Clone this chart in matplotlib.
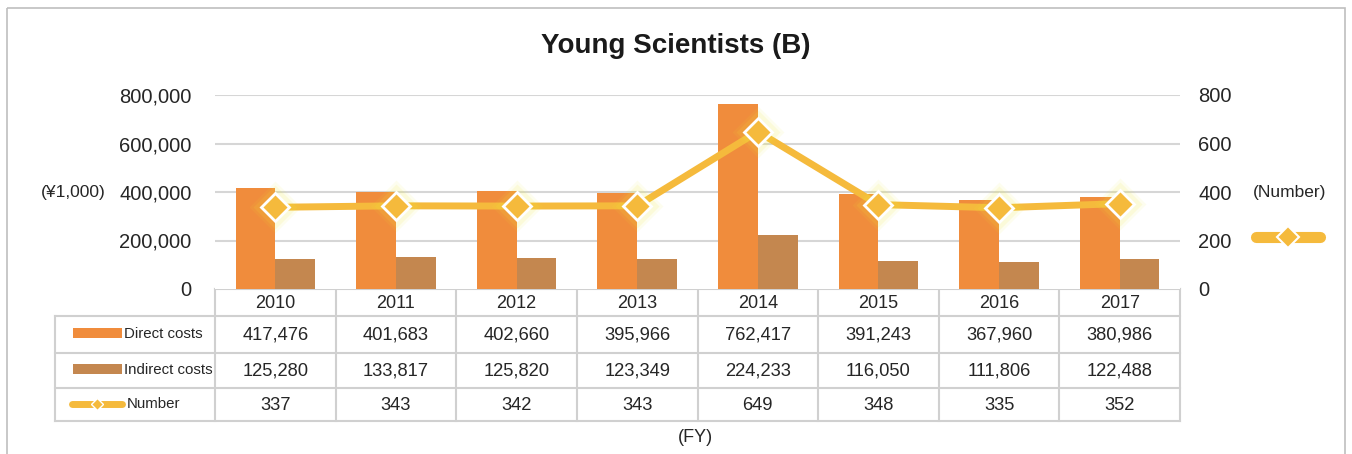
import matplotlib
matplotlib.use("Agg")
import matplotlib.pyplot as plt
from matplotlib.patches import Rectangle
from matplotlib.lines import Line2D
import numpy as np

plt.rcParams['font.family'] = ['Liberation Sans', 'DejaVu Sans']

years = ["2010", "2011", "2012", "2013", "2014", "2015", "2016", "2017"]
direct_costs = [417476, 401683, 402660, 395966, 762417, 391243, 367960, 380986]
indirect_costs = [125280, 133817, 125820, 123349, 224233, 116050, 111806, 122488]
numbers = [337, 343, 342, 343, 649, 348, 335, 352]
row_labels = ["Direct costs", "Indirect costs", "Number"]
left_ticks = [0, 200000, 400000, 600000, 800000]
right_ticks = [0, 200, 400, 600, 800]

C_DIRECT = "#F08C3C"
C_INDIRECT = "#C4874F"
C_LINE = "#F5BA3C"
C_GRID = "#D6D6D6"
C_TXT = "#262626"

W, H = 1352, 454
fig = plt.figure(figsize=(W / 100, H / 100), dpi=100)

# frame
bg = fig.add_axes([0, 0, 1, 1])
bg.set_xlim(0, W)
bg.set_ylim(H, 0)
bg.axis("off")
bg.add_patch(Rectangle((7, 8), 1338, 460, fill=False, edgecolor="#BFBFBF", lw=1.2))

# plot area in pixels
px_l, px_r, px_t, px_b = 215, 1180, 95, 289
ax = fig.add_axes([px_l / W, (H - px_b) / H, (px_r - px_l) / W, (px_b - px_t) / H])
n = len(years)
x = np.arange(n)
bw = 0.33
ax.bar(x - bw / 2, direct_costs, bw, color=C_DIRECT, zorder=2)
ax.bar(x + bw / 2, indirect_costs, bw, color=C_INDIRECT, zorder=2)
ax.set_xlim(-0.5, n - 0.5)
ax.set_ylim(0, 800000)
ax.set_yticks(left_ticks)
ax.set_yticklabels([f"{v:,}" for v in left_ticks], fontsize=14.5, color=C_TXT)
ax.tick_params(axis="y", length=0, pad=17)
ax.set_xticks([])
for s in ax.spines.values():
    s.set_visible(False)
for v in left_ticks[1:]:
    ax.axhline(v, color=C_GRID, lw=1.5, zorder=0)

ax2 = ax.twinx()
ax2.set_ylim(0, 800)
ax2.set_yticks(right_ticks)
ax2.set_yticklabels([str(v) for v in right_ticks], fontsize=14.5, color=C_TXT)
ax2.tick_params(axis="y", length=0, pad=13)
for s in ax2.spines.values():
    s.set_visible(False)
ax2.plot(x, numbers, color=C_LINE, lw=5, zorder=3, solid_capstyle="round")
for a, s in [(0.08, 26), (0.12, 22)]:
    ax2.plot(x, numbers, ls="none", marker="D", ms=s, color="#EFEA3A", alpha=a, mec="none", zorder=3)
ax2.plot(x, numbers, ls="none", marker="D", ms=14, mfc=C_LINE, mec="white", mew=2, zorder=4)

fig.text(676 / W, (H - 46) / H, "Young Scientists (B)", ha="center", va="center",
         fontsize=20, fontweight="bold", color="#1a1a1a")
fig.text(73 / W, (H - 192) / H, "(¥1,000)", ha="center", va="center", fontsize=12.5, color=C_TXT)
fig.text(1290 / W, (H - 192) / H, "(Number)", ha="center", va="center", fontsize=12.5, color=C_TXT)
# right legend sample
bg.add_line(Line2D([1256, 1320], [237, 237], color=C_LINE, lw=8, solid_capstyle="round"))
bg.plot([1288], [237], marker="D", ms=11, mfc=C_LINE, mec="white", mew=1.5)

# table
colw = (px_r - px_l) / n
rows_y = [289, 316, 353, 388, 421]
leg_l = 55
lc = "#D0D0D0"
bg.add_line(Line2D([px_l, px_r], [rows_y[0], rows_y[0]], color=lc, lw=1.5))
for yy in rows_y[1:]:
    bg.add_line(Line2D([leg_l, px_r], [yy, yy], color=lc, lw=1.5))
for i in range(n + 1):
    xx = px_l + i * colw
    bg.add_line(Line2D([xx, xx], [rows_y[0], rows_y[-1]], color=lc, lw=1.5))
bg.add_line(Line2D([leg_l, leg_l], [rows_y[1], rows_y[-1]], color=lc, lw=1.5))

series = [direct_costs, indirect_costs, numbers]
for i, yr in enumerate(years):
    cx = px_l + (i + 0.5) * colw
    bg.text(cx, (rows_y[0] + rows_y[1]) / 2 + 1, yr, ha="center", va="center", fontsize=13, color=C_TXT)
    for r, ser in enumerate(series):
        cy = (rows_y[r + 1] + rows_y[r + 2]) / 2 + 1
        bg.text(cx, cy, f"{ser[i]:,}", ha="center", va="center", fontsize=13.2, color=C_TXT)

# legend column
for r, lab in enumerate(row_labels):
    cy = (rows_y[r + 1] + rows_y[r + 2]) / 2
    if r < 2:
        bg.add_patch(Rectangle((73, cy - 7), 49, 10, color=[C_DIRECT, C_INDIRECT][r], lw=0))
        bg.text(124, cy, lab, ha="left", va="center", fontsize=10.8, color=C_TXT)
    else:
        bg.add_line(Line2D([72, 122], [cy - 1, cy - 1], color=C_LINE, lw=5, solid_capstyle="round"))
        bg.plot([97], [cy - 1], marker="D", ms=6, mfc=C_LINE, mec="white", mew=1)
        bg.text(127, cy, lab, ha="left", va="center", fontsize=10.8, color=C_TXT)

fig.text(695 / W, (H - 437) / H, "(FY)", ha="center", va="center", fontsize=13, color=C_TXT)

fig.savefig("out.png", dpi=100, facecolor="white")
